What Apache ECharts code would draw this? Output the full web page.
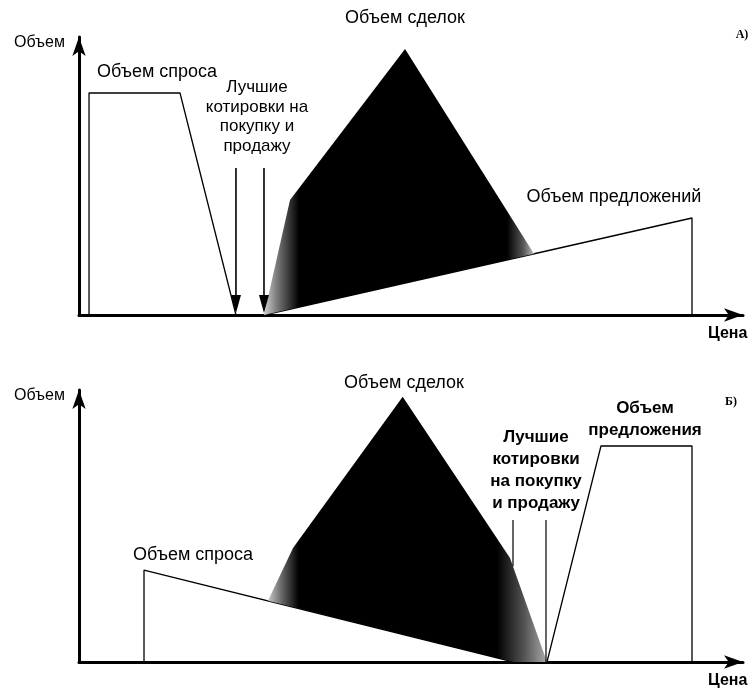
<!DOCTYPE html>
<html>
<head>
<meta charset="utf-8">
<script src="https://cdn.jsdelivr.net/npm/echarts@6/dist/echarts.min.js"></script>
<style>html,body{margin:0;padding:0;background:#fff}#c{width:755px;height:690px}</style>
</head>
<body>
<div id="c"></div>
<script>
// ---- Panel A (values in relative units, 0..100) ----
const demandA = [[1.51, 0], [1.51, 79.86], [15.21, 79.86], [23.64, 0]];
const supplyA = [[27.86, 0], [92.32, 34.89], [92.32, 0]];
const tradeA = [[27.86, 0], [31.78, 41.37], [49.10, 95.68], [68.52, 22.01]];
const quoteArrowsA = [[23.64, 52.88, 0], [27.86, 52.88, 0]]; // x, yTop, yTip
// ---- Panel B ----
const demandB = [[9.79, 0], [9.79, 33.82], [65.51, 0]];
const supplyB = [[70.48, 0], [78.61, 79.41], [92.32, 79.41], [92.32, 0]];
const tradeB = [[28.46, 22.49], [32.23, 41.91], [48.75, 97.54], [64.91, 38.24], [70.48, 0], [65.51, 0]];
const quoteLinesB = [[65.36, 52.21, 35.2], [70.33, 52.21, 0]]; // x, yTop, yBottom

const axisName = 'Объем';
const priceName = 'Цена';

const chart = echarts.init(document.getElementById('c'));
const FONT = '"Liberation Sans", Arial, sans-serif';

function mkGrad(stops) {
  return new echarts.graphic.LinearGradient(0, 0, 1, 0, stops.map(s => ({offset: s[0], color: s[1]})));
}
const gradA = mkGrad([[0, '#cfcfcf'], [0.05, '#777'], [0.13, '#000'], [0.9, '#000'], [0.96, '#555'], [1, '#bbb']]);
const gradB = mkGrad([[0, '#c8c8c8'], [0.05, '#666'], [0.11, '#000'], [0.82, '#000'], [0.92, '#555'], [1, '#aaa']]);

function polySeries(idx, pts, fill) {
  return {
    type: 'custom', xAxisIndex: idx, yAxisIndex: idx, z: 3,
    data: [pts[0]],
    renderItem: function (params, api) {
      return {type: 'polygon', shape: {points: pts.map(p => api.coord(p))}, style: {fill: fill}};
    }
  };
}
function outline(idx, pts) {
  return {
    type: 'line', xAxisIndex: idx, yAxisIndex: idx, data: pts, symbol: 'none', z: 2,
    lineStyle: {color: '#000', width: 1.3}, animation: false
  };
}

function axesFor(idx) {
  const common = {
    gridIndex: idx, type: 'value', min: 0, max: 100,
    axisTick: {show: false}, axisLabel: {show: false}, splitLine: {show: false},
    axisLine: {show: true, symbol: ['none', 'arrow'], symbolSize: [10, 19], lineStyle: {color: '#000', width: 3}}
  };
  return {
    x: Object.assign({}, common, {
      name: priceName, nameLocation: 'end', nameGap: -35,
      nameTextStyle: {color: '#000', fontFamily: FONT, fontSize: 16, fontWeight: 'bold', verticalAlign: 'top', align: 'left', padding: [11, 0, 0, 0]}
    }),
    y: Object.assign({}, common, {
      name: axisName, nameLocation: 'end', nameGap: -6,
      nameTextStyle: {color: '#000', fontFamily: FONT, fontSize: 16, verticalAlign: 'middle', align: 'right', padding: [0, 14, 0, 0]}
    })
  };
}
const aA = axesFor(0), aB = axesFor(1);

function txt(x, y, text, opts) {
  return {
    type: 'text', x: x, y: y, z: 10,
    style: Object.assign({text: text, font: '18px ' + FONT, fill: '#000', align: 'center', verticalAlign: 'middle', lineHeight: 20}, opts || {})
  };
}

chart.setOption({
  animation: false,
  grid: [
    {left: 79, top: 37, width: 664, height: 278},
    {left: 79, top: 390, width: 664, height: 272}
  ],
  xAxis: [aA.x, aB.x],
  yAxis: [aA.y, aB.y],
  series: [
    outline(0, demandA),
    outline(0, supplyA),
    polySeries(0, tradeA, gradA),
    {
      type: 'custom', xAxisIndex: 0, yAxisIndex: 0, z: 5, data: quoteArrowsA,
      renderItem: function (params, api) {
        const top = api.coord([api.value(0), api.value(1)]);
        const tip = api.coord([api.value(0), api.value(2)]);
        const hl = 18, hw = 5;
        return {type: 'group', children: [
          {type: 'line', shape: {x1: top[0], y1: top[1], x2: tip[0], y2: tip[1] - hl + 2}, style: {stroke: '#000', lineWidth: 1.6}},
          {type: 'polygon', shape: {points: [[tip[0], tip[1] - 2], [tip[0] - hw, tip[1] - hl - 2], [tip[0] + hw, tip[1] - hl - 2]]}, style: {fill: '#000'}}
        ]};
      }
    },
    outline(1, demandB),
    outline(1, supplyB),
    polySeries(1, tradeB, gradB),
    {
      type: 'custom', xAxisIndex: 1, yAxisIndex: 1, z: 5, data: quoteLinesB,
      renderItem: function (params, api) {
        const top = api.coord([api.value(0), api.value(1)]);
        const bot = api.coord([api.value(0), api.value(2)]);
        return {type: 'line', shape: {x1: top[0], y1: top[1], x2: bot[0], y2: bot[1]}, style: {stroke: '#000', lineWidth: 1.2}};
      }
    }
  ],
  graphic: [
    txt(405, 18, 'Объем сделок'),
    txt(97, 72, 'Объем спроса', {align: 'left'}),
    txt(257, 117, 'Лучшие\nкотировки на\nпокупку и\nпродажу', {lineHeight: 19.5, font: '17px ' + FONT}),
    txt(614, 197, 'Объем предложений'),
    txt(742, 35, 'А)', {font: 'bold 12px "Liberation Serif", serif'}),
    txt(404, 383, 'Объем сделок'),
    txt(133, 555, 'Объем спроса', {align: 'left'}),
    txt(536, 470, 'Лучшие\nкотировки\nна покупку\nи продажу', {lineHeight: 22, font: 'bold 17px ' + FONT}),
    txt(645, 419, 'Объем\nпредложения', {lineHeight: 22, font: 'bold 17px ' + FONT}),
    txt(731, 402, 'Б)', {font: 'bold 12px "Liberation Serif", serif'})
  ]
});
</script>
</body>
</html>
